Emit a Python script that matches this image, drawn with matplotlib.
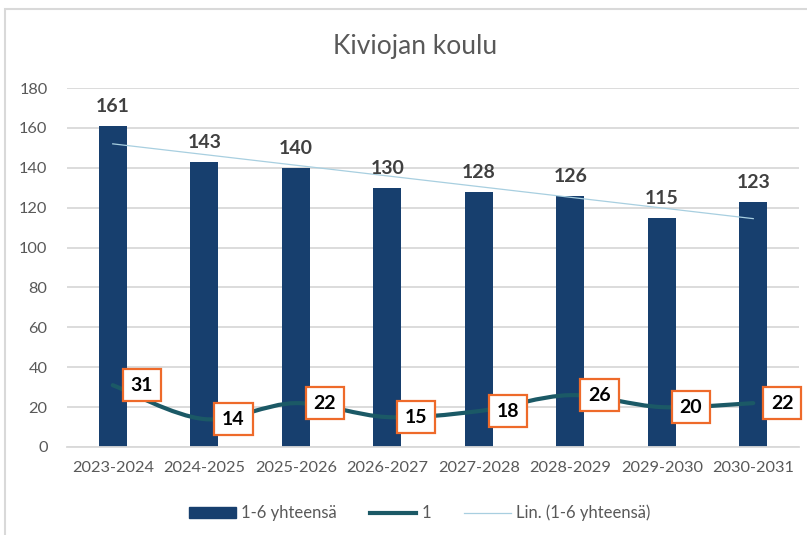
import numpy as np
import matplotlib
matplotlib.use('Agg')
import matplotlib.pyplot as plt
from matplotlib.path import Path
from matplotlib.patches import PathPatch, Rectangle
from matplotlib.lines import Line2D

# Data
categories = ['2023-2024', '2024-2025', '2025-2026', '2026-2027',
              '2027-2028', '2028-2029', '2029-2030', '2030-2031']
total_1_6 = [161, 143, 140, 130, 128, 126, 115, 123]
grade_1 = [31, 14, 22, 15, 18, 26, 20, 22]
title = 'Kiviojan koulu'
yticks = [0, 20, 40, 60, 80, 100, 120, 140, 160, 180]

plt.rcParams['font.family'] = ['Lato', 'DejaVu Sans']

bar_color = '#173F6E'
line_color = '#1B5966'
trend_color = '#A8CFE0'
grid_color = '#D9D9D9'
text_gray = '#595959'

fig = plt.figure(figsize=(8.07, 5.35), dpi=100)
ax = fig.add_axes([67 / 807, 1 - 447 / 535, 732 / 807, 359 / 535])

x = np.arange(len(categories))
ax.bar(x, total_1_6, width=0.31, color=bar_color, zorder=2)

# Linear trendline
coef = np.polyfit(x, total_1_6, 1)
ax.plot(x, np.polyval(coef, x), color=trend_color, linewidth=0.9, zorder=3)

# Smoothed line (cubic bezier through the points)
pts = np.column_stack([x, grade_1]).astype(float)
verts = [tuple(pts[0])]
codes = [Path.MOVETO]
t = 1 / 6
for i in range(len(pts) - 1):
    p0 = pts[i - 1] if i > 0 else pts[i]
    p1 = pts[i]
    p2 = pts[i + 1]
    p3 = pts[i + 2] if i + 2 < len(pts) else pts[i + 1]
    c1 = p1 + (p2 - p0) * t
    c2 = p2 - (p3 - p1) * t
    verts += [tuple(c1), tuple(c2), tuple(p2)]
    codes += [Path.CURVE4, Path.CURVE4, Path.CURVE4]
ax.add_patch(PathPatch(Path(verts, codes), facecolor='none', edgecolor=line_color,
                       linewidth=3, capstyle='round', joinstyle='round', zorder=4))

# Bar labels
for xi, v in zip(x, total_1_6):
    ax.annotate(str(v), (xi, v), xytext=(0, 8), textcoords='offset points',
                ha='center', va='bottom', fontsize=14, fontweight='bold', color='#404040')

# Line labels
for xi, v in zip(x, grade_1):
    ax.annotate(str(v), (xi, v), xytext=(21, 0), textcoords='offset points',
                ha='center', va='center', fontsize=14, fontweight='bold', color='black',
                bbox=dict(boxstyle='square,pad=0.4', facecolor='white',
                          edgecolor='#EE6A2A', linewidth=1.6), zorder=6)

ax.set_xlim(-0.5, len(categories) - 0.5)
ax.set_ylim(0, 180)
ax.set_yticks(yticks)
ax.set_xticks(x)
ax.set_xticklabels(categories)
ax.tick_params(axis='both', length=0, labelsize=11.8, labelcolor=text_gray)
ax.tick_params(axis='y', pad=14)
ax.tick_params(axis='x', pad=10)
ax.grid(axis='y', color=grid_color, linewidth=1.3, zorder=0)
ax.set_axisbelow(True)
for s in ['top', 'right', 'left']:
    ax.spines[s].set_visible(False)
ax.spines['bottom'].set_color(grid_color)
ax.spines['bottom'].set_linewidth(1.3)

fig.text(415 / 807, 1 - 47 / 535, title, ha='center', va='center',
         fontsize=19, color=text_gray)

handles = [Rectangle((0, 0), 1, 1, color=bar_color),
           Line2D([], [], color=line_color, linewidth=3),
           Line2D([], [], color=trend_color, linewidth=0.9)]
labels = ['1-6 yhteensä', '1', 'Lin. (1-6 yhteensä)']
fig.legend(handles, labels, loc='center', bbox_to_anchor=(0.52, 1 - 513 / 535),
           ncol=3, frameon=False, fontsize=12, labelcolor=text_gray,
           handlelength=2.8, handleheight=0.6, columnspacing=2.0, handletextpad=0.3)

# Chart area border
fig.add_artist(Rectangle((5 / 807, -0.1), 1.2, 1 - 9 / 535 + 0.1, transform=fig.transFigure,
                         facecolor='none', edgecolor=grid_color, linewidth=1.5))

fig.savefig('out.png', dpi=100)
